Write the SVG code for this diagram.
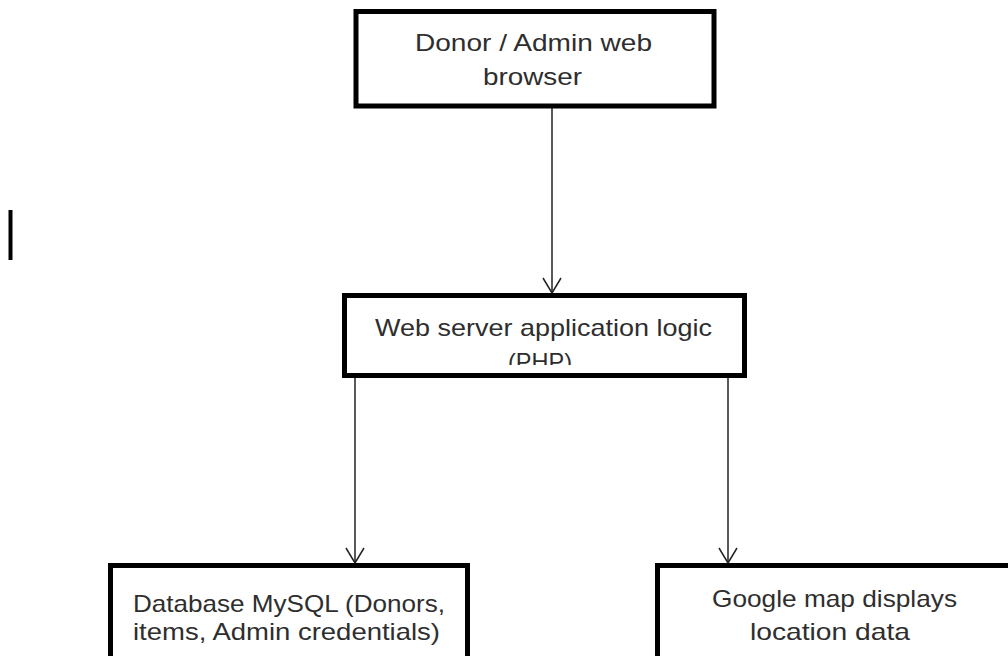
<svg xmlns="http://www.w3.org/2000/svg" width="1008" height="656" viewBox="0 0 1008 656">
  <style>
    .box { fill: #ffffff; stroke: #000000; stroke-width: 5; }
    .lbl { font-family: "Liberation Sans", "Open Sans", sans-serif; font-size: 24px; fill: #2e2e2e; text-anchor: middle; }
    .conn { stroke: #222222; stroke-width: 1.5; fill: none; }
  </style>
  <defs>
    <marker id="vhead" markerUnits="userSpaceOnUse" markerWidth="24" markerHeight="24" refX="16" refY="10" orient="auto" viewBox="0 0 24 20">
      <path d="M1,1 L16,10 L1,19" fill="none" stroke="#222222" stroke-width="1.5"/>
    </marker>
    <clipPath id="midclip">
      <rect x="347" y="298" width="395" height="67"/>
    </clipPath>
  </defs>
  <rect x="0" y="0" width="1008" height="656" fill="#ffffff"/>

  <line x1="10.5" y1="210" x2="10.5" y2="260" stroke="#000000" stroke-width="4"/>

  <g id="connectors">
    <line class="conn" x1="552" y1="108" x2="552" y2="293" marker-end="url(#vhead)"/>
    <line class="conn" x1="355" y1="378" x2="355" y2="563" marker-end="url(#vhead)"/>
    <line class="conn" x1="728" y1="378" x2="728" y2="563" marker-end="url(#vhead)"/>
  </g>

  <g id="node-browser">
    <rect class="box" x="356" y="11.5" width="358" height="94.5"/>
    <text class="lbl" x="533.5" y="51" textLength="237" lengthAdjust="spacingAndGlyphs">Donor / Admin web</text>
    <text class="lbl" x="532.5" y="85" textLength="99" lengthAdjust="spacingAndGlyphs">browser</text>
  </g>

  <g id="node-webserver">
    <rect class="box" x="344.5" y="295.5" width="400" height="80"/>
    <text class="lbl" x="543.5" y="336" textLength="337" lengthAdjust="spacingAndGlyphs">Web server application logic</text>
    <text class="lbl" x="540" y="370" textLength="64" lengthAdjust="spacingAndGlyphs" clip-path="url(#midclip)">(PHP)</text>
  </g>

  <g id="node-database">
    <rect class="box" x="110.5" y="565.5" width="357" height="100"/>
    <text class="lbl" x="289" y="612" textLength="312" lengthAdjust="spacingAndGlyphs">Database MySQL (Donors,</text>
    <text class="lbl" x="286.5" y="640" textLength="307" lengthAdjust="spacingAndGlyphs">items, Admin credentials)</text>
  </g>

  <g id="node-googlemap">
    <rect class="box" x="657.5" y="565.5" width="400" height="100"/>
    <text class="lbl" x="834.5" y="607" textLength="245" lengthAdjust="spacingAndGlyphs">Google map displays</text>
    <text class="lbl" x="830" y="640" textLength="160" lengthAdjust="spacingAndGlyphs">location data</text>
  </g>
</svg>
